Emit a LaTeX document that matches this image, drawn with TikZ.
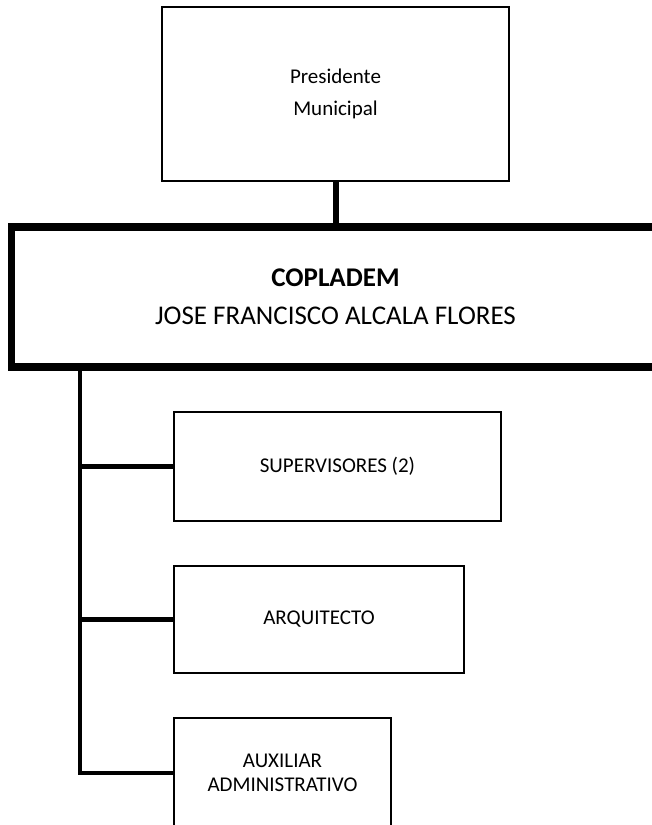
\documentclass[tikz,border=0pt]{standalone}
\usepackage{fontspec}
\setmainfont{Carlito}
\usetikzlibrary{positioning}

\begin{document}
\begin{tikzpicture}[x=1pt,y=-1pt,
		puesto/.style={draw,line width=2pt,rectangle,align=center,inner sep=0pt,
			font=\fontsize{21}{24}\selectfont},
		rama/.style={line width=4.7pt,line join=miter}]
		\useasboundingbox (0,0) rectangle (652,825);
		\node[puesto,minimum width=347pt,minimum height=174pt,
		font=\fontsize{21}{31.5}\selectfont] (presidente) at (335.5,94) {Presidente\\Municipal};
		\node[puesto,line width=7.5pt,minimum width=648pt,minimum height=140pt,
		font=\fontsize{27}{38}\selectfont] (copladem) at (335.5,297)
		{\textbf{COPLADEM}\\JOSE FRANCISCO ALCALA FLORES};
		\node[puesto,minimum width=327pt,minimum height=109pt] (super) at (337.5,466.5) {SUPERVISORES (2)};
		\node[puesto,minimum width=290pt,minimum height=107pt] (arqui) at (319,619.5) {ARQUITECTO};
		\node[puesto,minimum width=217pt,minimum height=110pt] (auxil) at (282.5,773) {AUXILIAR\\ADMINISTRATIVO};
		\coordinate (tronco) at (80,0);
		\draw[line width=6pt] (presidente) -- (copladem);
		\draw[rama] (copladem.south -| tronco) |- (auxil.west);
		\foreach \puesto in {super,arqui}{
			\draw[rama] (tronco |- \puesto.west) -- (\puesto.west);
		}
	\end{tikzpicture}
\end{document}
